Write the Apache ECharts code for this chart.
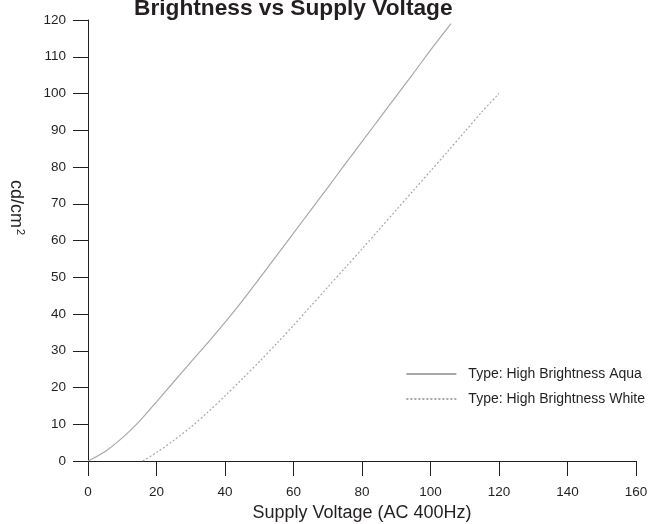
<!DOCTYPE html>
<html>
<head>
<meta charset="utf-8">
<script src="https://cdn.jsdelivr.net/npm/echarts@6/dist/echarts.min.js"></script>
<style>
  html, body { margin: 0; padding: 0; background: #fff; }
  #chart { width: 653px; height: 524px; }
</style>
</head>
<body>
<div id="chart"></div>
<script>
const aquaVoltage = [0, 5, 10, 15, 20, 25, 30, 35, 40, 45, 50, 55, 60, 65, 70, 75, 80, 85, 90, 95, 100, 106]
const aquaBrightness = [0, 2.6, 6.3, 10.8, 16.1, 21.5, 26.9, 32.2, 37.7, 43.5, 49.6, 55.8, 62.0, 68.2, 74.4, 80.7, 86.9, 93.1, 99.3, 105.5, 111.8, 119]

const whiteVoltage = [16, 20, 25, 30, 35, 40, 45, 50, 55, 60, 65, 70, 75, 80, 85, 90, 95, 100, 105, 110, 115, 120]
const whiteBrightness = [0, 2.3, 5.6, 9.2, 13.3, 17.7, 22.3, 27.0, 31.9, 36.9, 42.1, 47.3, 52.5, 57.7, 63.0, 68.3, 73.6, 78.9, 84.2, 89.6, 95.0, 100]

const seriesNames = ['Type: High Brightness Aqua', 'Type: High Brightness White']

const FONT = '"Liberation Sans", Arial, sans-serif'
const INK = '#231f20'
const LINE = '#a8a8a8'

function pairs(xs, ys) {
  return xs.map((x, i) => [x, ys[i]])
}

const axisBase = {
  type: 'value',
  splitLine: { show: false },
  axisLine: { show: true, onZero: false, lineStyle: { color: INK, width: 1 } },
  axisTick: { show: true, inside: false, length: 15, lineStyle: { color: INK, width: 1 } },
  axisLabel: { color: INK, fontSize: 13.5, fontFamily: FONT, margin: 22 },
}

const chart = echarts.init(document.getElementById('chart'), null, { renderer: 'canvas' })

chart.setOption({
  backgroundColor: '#fff',
  animation: false,
  title: {
    text: 'Brightness vs Supply Voltage',
    left: 129,
    top: -8,
    textStyle: { color: INK, fontSize: 22.7, fontWeight: 'bold', fontFamily: FONT },
  },
  grid: { left: 88, right: 17, top: 20, bottom: 63, containLabel: false, outerBoundsMode: 'none' },
  legend: {
    orient: 'vertical',
    right: 3,
    top: 362,
    itemWidth: 50,
    itemHeight: 14,
    itemGap: 11,
    itemStyle: { opacity: 0 },
    textStyle: { color: INK, fontSize: 14, fontFamily: FONT, padding: [0, 0, 0, 7] },
    data: seriesNames,
  },
  xAxis: {
    ...axisBase,
    min: 0,
    max: 160,
    interval: 20,
    axisLabel: { ...axisBase.axisLabel, margin: 24 },
    name: 'Supply Voltage (AC 400Hz)',
    nameLocation: 'middle',
    nameGap: 40,
    nameTextStyle: { color: INK, fontSize: 18, fontFamily: FONT },
  },
  yAxis: {
    ...axisBase,
    min: 0,
    max: 120,
    interval: 10,
    name: 'cd/cm{sup|2}',
    nameLocation: 'middle',
    nameRotate: -90,
    nameGap: 62,
    nameTextStyle: {
      color: INK,
      fontSize: 18,
      fontFamily: FONT,
      padding: [0, 66, 0, 0],
      rich: {
        sup: { fontSize: 11, verticalAlign: 'top', color: INK, fontFamily: FONT, padding: [0, 0, 9, 1] },
      },
    },
  },
  series: [
    {
      name: seriesNames[0],
      type: 'line',
      symbol: 'none',
      smooth: 0.3,
      lineStyle: { color: LINE, width: 1.2, type: 'solid' },
      itemStyle: { color: LINE },
      data: pairs(aquaVoltage, aquaBrightness),
    },
    {
      name: seriesNames[1],
      type: 'line',
      symbol: 'none',
      smooth: 0.3,
      lineStyle: { color: LINE, width: 1.2, type: [2, 2] },
      itemStyle: { color: LINE },
      data: pairs(whiteVoltage, whiteBrightness),
    },
  ],
})
</script>
</body>
</html>
